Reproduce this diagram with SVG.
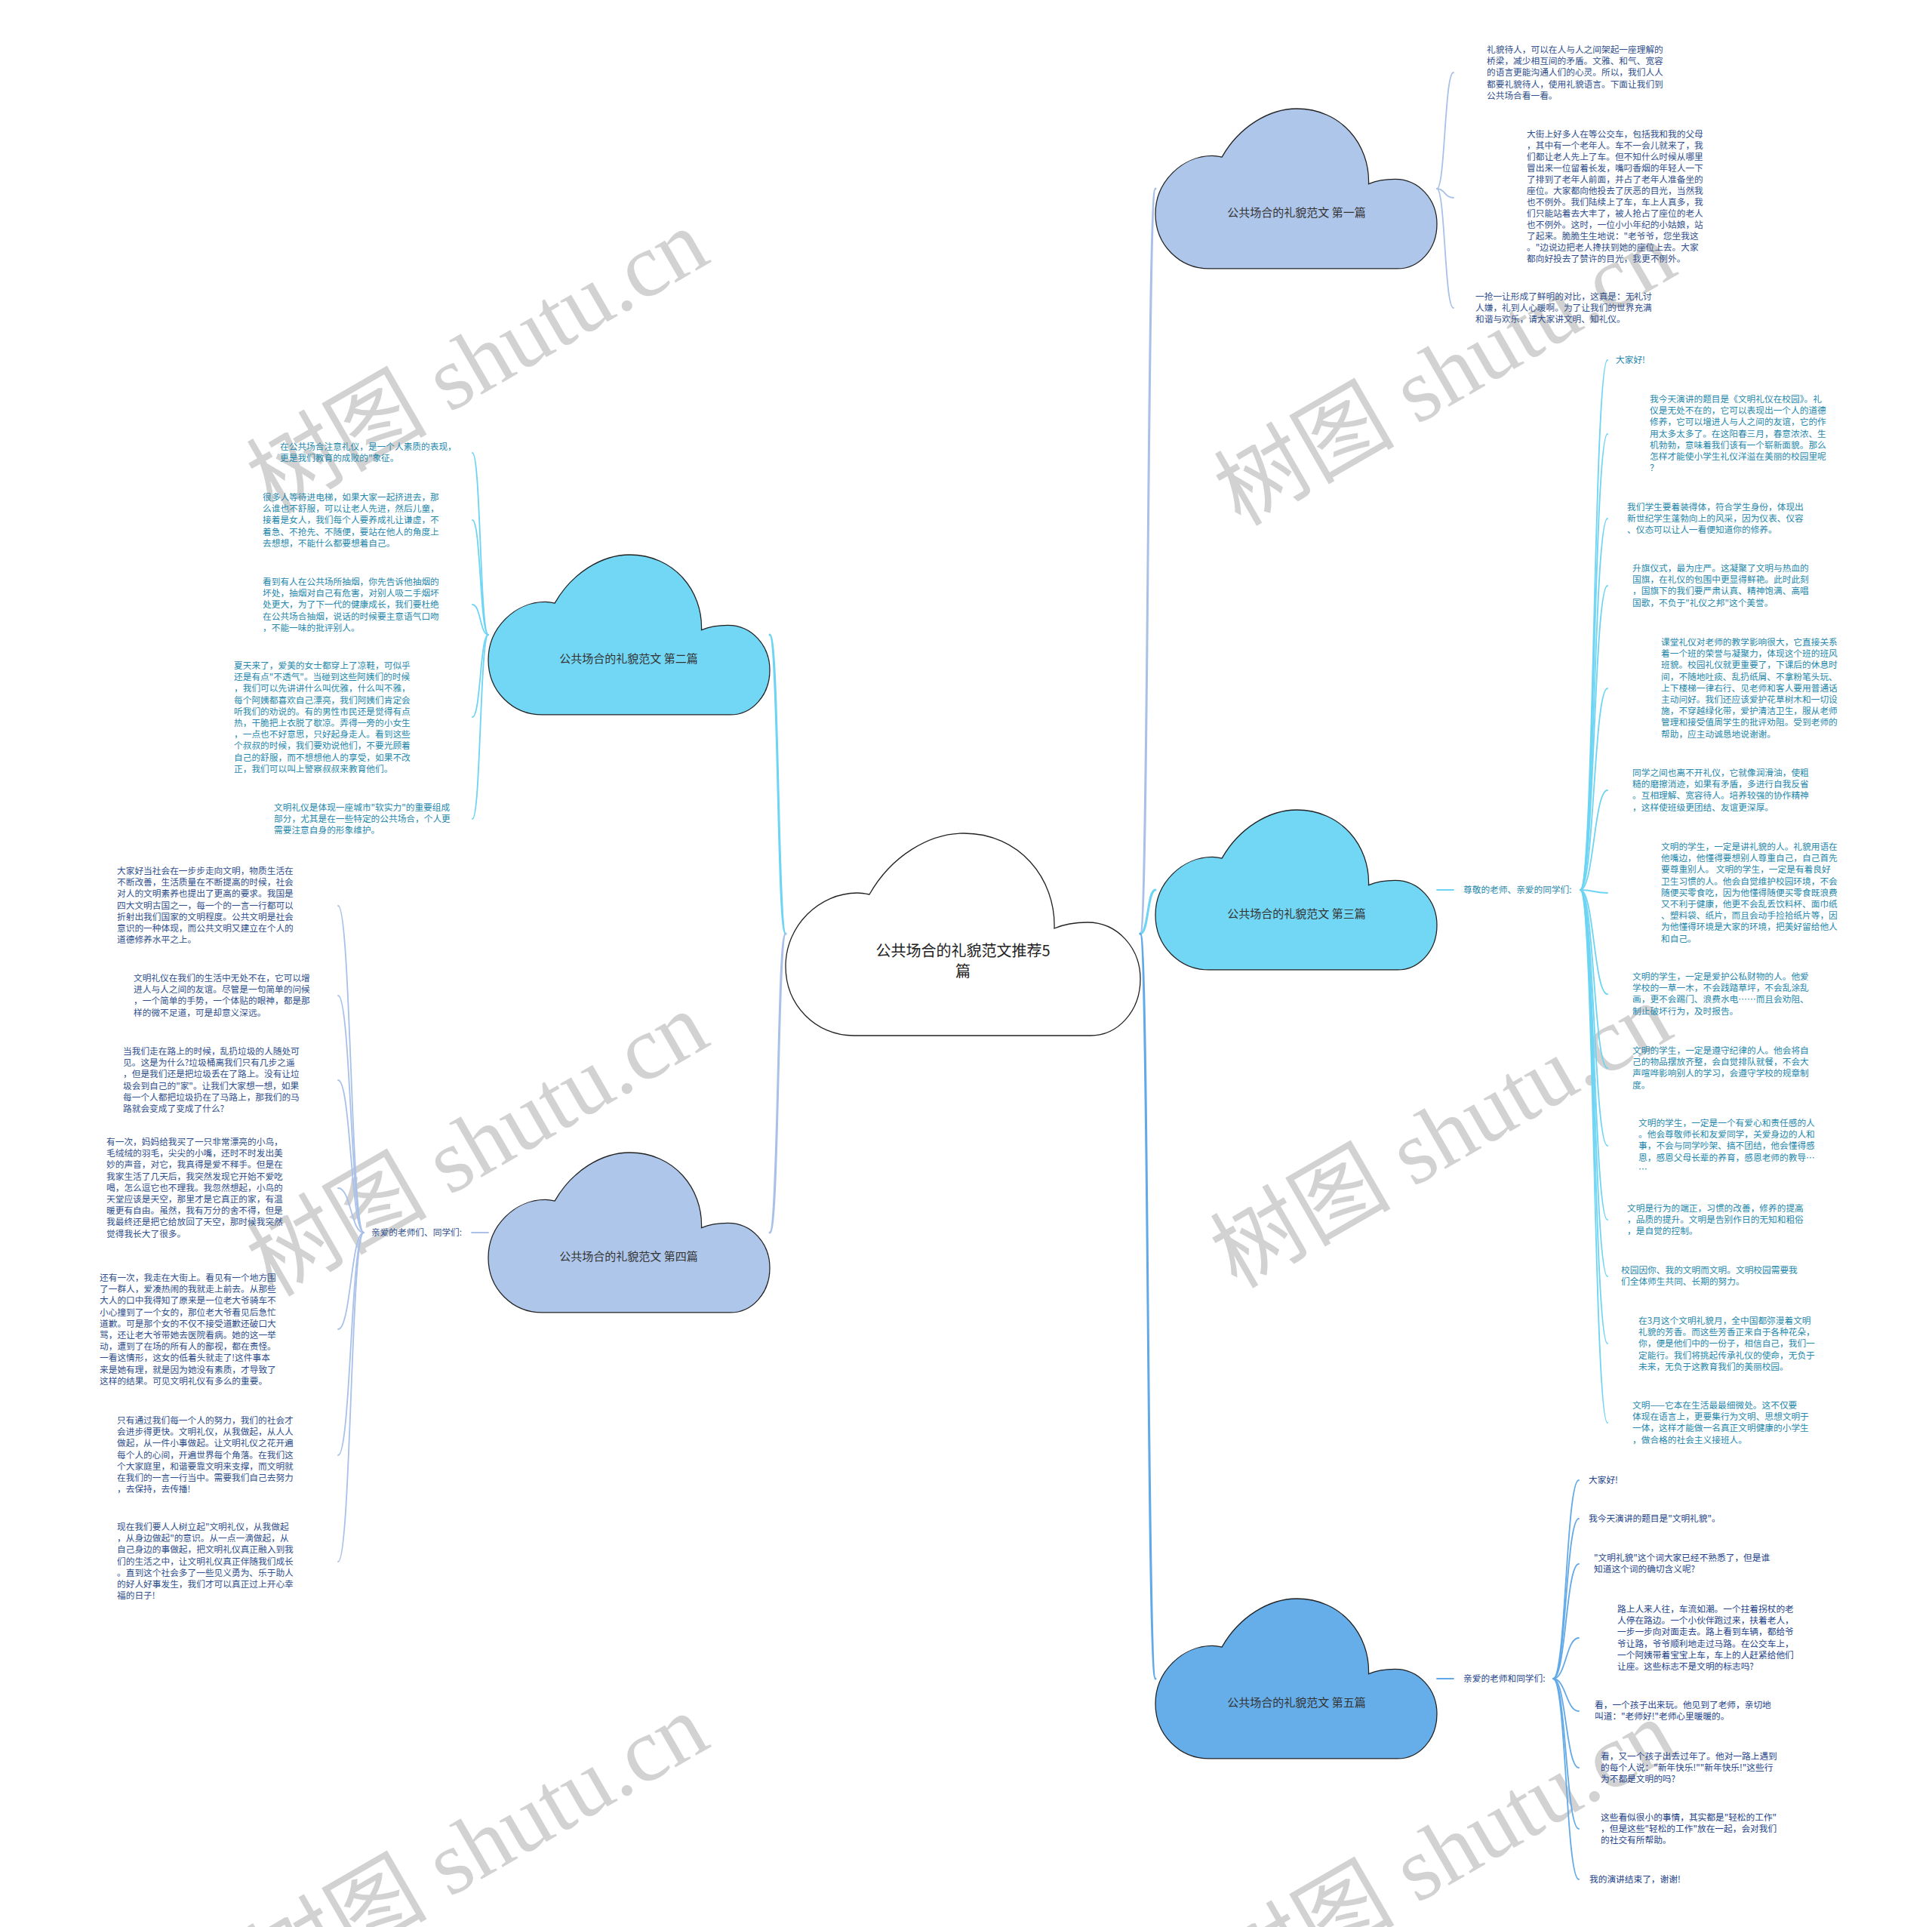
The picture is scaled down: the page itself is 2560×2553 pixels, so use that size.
<svg xmlns="http://www.w3.org/2000/svg" xmlns:xlink="http://www.w3.org/1999/xlink" width="2560" height="2553" viewBox="0 0 2560 2553">
<style>
.t{font-family:"Noto Sans CJK SC","Noto Sans",sans-serif;font-size:11.7px}
.navy{fill:#2f4f8c}
.teal{fill:#2688ab}
.blue5{fill:#24448a}
.lbl{font-family:"Noto Sans CJK SC","Noto Sans",sans-serif;font-size:15px;fill:#333;text-anchor:middle}
.root{font-family:"Noto Sans CJK SC","Noto Sans",sans-serif;font-size:20px;fill:#222;text-anchor:middle}
.wm{font-family:"Liberation Serif","Noto Sans CJK SC",serif;font-size:120px;fill:#d2d2d2;text-anchor:middle}
.c{fill:none;stroke-linecap:round}
.lav{stroke:#a9c1e8}
.cyan{stroke:#6dd4f3}
.bl{stroke:#62a9e8}
.main{stroke-width:3}
.leaf{stroke-width:1.8}
</style>
<defs>
<path id="cloud" d="M111,81 C140,30 190,0 236,0 C310,0 358,60 356,126 C370,120 385,118 400,118 C440,118 470,152 470,193 C470,236 440,268 404,268 L90,268 C40,268 0,228 0,176 C0,122 45,79 95,79 C101,79 106,80 111,81 Z"/>
</defs>
<rect width="2560" height="2553" fill="#fff"/>
<g id="watermarks">
<text class="wm" transform="translate(653,514) rotate(-30)">树图 shutu.cn</text>
<text class="wm" transform="translate(1935,530) rotate(-30)">树图 shutu.cn</text>
<text class="wm" transform="translate(653,1551) rotate(-30)">树图 shutu.cn</text>
<text class="wm" transform="translate(1930,1540) rotate(-30)">树图 shutu.cn</text>
<text class="wm" transform="translate(653,2481) rotate(-30)">树图 shutu.cn</text>
<text class="wm" transform="translate(1935,2489) rotate(-30)">树图 shutu.cn</text>
</g>
<g id="connectors">
<path class="c main lav" d="M1511,1237 C1522,1237 1520,250 1531,250"/>
<path class="c main cyan" d="M1511,1237 C1522,1237 1520,1179 1531,1179"/>
<path class="c main bl" d="M1511,1237 C1522,1237 1520,2224 1531,2224"/>
<path class="c main cyan" d="M1041,1237 C1030,1237 1032,841 1020,841"/>
<path class="c main lav" d="M1041,1237 C1030,1237 1032,1633 1020,1633"/>
<path class="c leaf cyan" d="M1904,1179 H1926"/>
<path class="c leaf bl" d="M1904,2224 H1926"/>
<path class="c leaf lav" d="M625,1633 H647"/>
<path class="c leaf lav" d="M1904,250 C1915,250 1914,96 1926,96"/>
<path class="c leaf lav" d="M1904,250 C1915,250 1914,262 1926,262"/>
<path class="c leaf lav" d="M1904,250 C1915,250 1914,408 1926,408"/>
<path class="c leaf cyan" d="M2094,1179 C2112,1179 2112,477 2130,477"/>
<path class="c leaf cyan" d="M2094,1179 C2112,1179 2112,575 2130,575"/>
<path class="c leaf cyan" d="M2094,1179 C2112,1179 2112,687 2130,687"/>
<path class="c leaf cyan" d="M2094,1179 C2112,1179 2112,776 2130,776"/>
<path class="c leaf cyan" d="M2094,1179 C2112,1179 2112,912 2130,912"/>
<path class="c leaf cyan" d="M2094,1179 C2112,1179 2112,1047 2130,1047"/>
<path class="c leaf cyan" d="M2094,1179 C2112,1179 2112,1183 2130,1183"/>
<path class="c leaf cyan" d="M2094,1179 C2112,1179 2112,1317 2130,1317"/>
<path class="c leaf cyan" d="M2094,1179 C2112,1179 2112,1415 2130,1415"/>
<path class="c leaf cyan" d="M2094,1179 C2112,1179 2112,1518 2130,1518"/>
<path class="c leaf cyan" d="M2094,1179 C2112,1179 2112,1616 2130,1616"/>
<path class="c leaf cyan" d="M2094,1179 C2112,1179 2112,1691 2130,1691"/>
<path class="c leaf cyan" d="M2094,1179 C2112,1179 2112,1780 2130,1780"/>
<path class="c leaf cyan" d="M2094,1179 C2112,1179 2112,1885 2130,1885"/>
<path class="c leaf bl" d="M2058,2224 C2075,2224 2075,1961 2092,1961"/>
<path class="c leaf bl" d="M2058,2224 C2075,2224 2075,2012 2092,2012"/>
<path class="c leaf bl" d="M2058,2224 C2075,2224 2075,2072 2092,2072"/>
<path class="c leaf bl" d="M2058,2224 C2075,2224 2075,2170 2092,2170"/>
<path class="c leaf bl" d="M2058,2224 C2075,2224 2075,2267 2092,2267"/>
<path class="c leaf bl" d="M2058,2224 C2075,2224 2075,2342 2092,2342"/>
<path class="c leaf bl" d="M2058,2224 C2075,2224 2075,2423 2092,2423"/>
<path class="c leaf bl" d="M2058,2224 C2075,2224 2075,2490 2092,2490"/>
<path class="c leaf cyan" d="M647,841 C636,841 637,600 626,600"/>
<path class="c leaf cyan" d="M647,841 C636,841 637,689 626,689"/>
<path class="c leaf cyan" d="M647,841 C636,841 637,801 626,801"/>
<path class="c leaf cyan" d="M647,841 C636,841 637,950 626,950"/>
<path class="c leaf cyan" d="M647,841 C636,841 637,1085 626,1085"/>
<path class="c leaf lav" d="M482,1633 C465,1633 465,1200 448,1200"/>
<path class="c leaf lav" d="M482,1633 C465,1633 465,1319 448,1319"/>
<path class="c leaf lav" d="M482,1633 C465,1633 465,1431 448,1431"/>
<path class="c leaf lav" d="M482,1633 C465,1633 465,1574 448,1574"/>
<path class="c leaf lav" d="M482,1633 C465,1633 465,1761 448,1761"/>
<path class="c leaf lav" d="M482,1633 C465,1633 465,1928 448,1928"/>
<path class="c leaf lav" d="M482,1633 C465,1633 465,2069 448,2069"/>
</g>
<g id="root">
<use xlink:href="#cloud" href="#cloud" transform="translate(1041,1104)" fill="#ffffff" stroke="#222" stroke-width="1.3"/>
<text class="root" x="1276" y="1267">公共场合的礼貌范文推荐5</text>
<text class="root" x="1276" y="1294">篇</text>
</g>
<g id="node1">
<use xlink:href="#cloud" href="#cloud" transform="translate(1531,144) scale(0.7936,0.791)" fill="#aec6ea" stroke="#222" stroke-width="1.6"/>
<text class="lbl" x="1718" y="287">公共场合的礼貌范文 第一篇</text>
</g>
<g id="node1-texts" class="t navy">
<text x="1970" y="70"><tspan x="1970">礼貌待人，可以在人与人之间架起一座理解的</tspan><tspan x="1970" dy="15.2">桥梁，减少相互间的矛盾。文雅、和气、宽容</tspan><tspan x="1970" dy="15.2">的语言更能沟通人们的心灵。所以，我们人人</tspan><tspan x="1970" dy="15.2">都要礼貌待人，使用礼貌语言。下面让我们到</tspan><tspan x="1970" dy="15.2">公共场合看一看。</tspan></text>
<text x="2023" y="182"><tspan x="2023">大街上好多人在等公交车，包括我和我的父母</tspan><tspan x="2023" dy="15">，其中有一个老年人。车不一会儿就来了，我</tspan><tspan x="2023" dy="15">们都让老人先上了车。但不知什么时候从哪里</tspan><tspan x="2023" dy="15">冒出来一位留着长发，嘴叼香烟的年轻人一下</tspan><tspan x="2023" dy="15">了排到了老年人前面，并占了老年人准备坐的</tspan><tspan x="2023" dy="15">座位。大家都向他投去了厌恶的目光，当然我</tspan><tspan x="2023" dy="15">也不例外。我们陆续上了车，车上人真多，我</tspan><tspan x="2023" dy="15">们只能站着去大丰了，被人抢占了座位的老人</tspan><tspan x="2023" dy="15">也不例外。这时，一位小小年纪的小姑娘，站</tspan><tspan x="2023" dy="15">了起来。脆脆生生地说："老爷爷，您坐我这</tspan><tspan x="2023" dy="15">。"边说边把老人搀扶到她的座位上去。大家</tspan><tspan x="2023" dy="15">都向好投去了赞许的目光，我更不例外。</tspan></text>
<text x="1955" y="397"><tspan x="1955">一抢一让形成了鲜明的对比，这真是：无礼讨</tspan><tspan x="1955" dy="15.2">人嫌，礼到人心暖啊。为了让我们的世界充满</tspan><tspan x="1955" dy="15.2">和谐与欢乐，请大家讲文明、知礼仪。</tspan></text>
</g>
<g id="node2">
<use xlink:href="#cloud" href="#cloud" transform="translate(647,735) scale(0.7936,0.791)" fill="#72d6f5" stroke="#222" stroke-width="1.6"/>
<text class="lbl" x="833" y="878">公共场合的礼貌范文 第二篇</text>
</g>
<g id="node2-texts" class="t teal">
<text x="371" y="596"><tspan x="371">在公共场合注意礼仪，是一个人素质的表现，</tspan><tspan x="371" dy="15.2">更是我们教育的成败的"象征。</tspan></text>
<text x="348" y="663"><tspan x="348">很多人等待进电梯，如果大家一起挤进去，那</tspan><tspan x="348" dy="15.2">么谁也不舒服，可以让老人先进，然后儿童，</tspan><tspan x="348" dy="15.2">接着是女人，我们每个人要养成礼让谦虚，不</tspan><tspan x="348" dy="15.2">着急、不抢先、不随便，要站在他人的角度上</tspan><tspan x="348" dy="15.2">去想想，不能什么都要想着自己。</tspan></text>
<text x="348" y="775"><tspan x="348">看到有人在公共场所抽烟，你先告诉他抽烟的</tspan><tspan x="348" dy="15.2">坏处，抽烟对自己有危害，对别人吸二手烟坏</tspan><tspan x="348" dy="15.2">处更大，为了下一代的健康成长，我们要杜绝</tspan><tspan x="348" dy="15.2">在公共场合抽烟，说话的时候要主意语气口吻</tspan><tspan x="348" dy="15.2">，不能一味的批评别人。</tspan></text>
<text x="310" y="886"><tspan x="310">夏天来了，爱美的女士都穿上了凉鞋，可似乎</tspan><tspan x="310" dy="15.2">还是有点"不透气"。当碰到这些阿姨们的时候</tspan><tspan x="310" dy="15.2">，我们可以先讲讲什么叫优雅，什么叫不雅，</tspan><tspan x="310" dy="15.2">每个阿姨都喜欢自己漂亮，我们阿姨们肯定会</tspan><tspan x="310" dy="15.2">听我们的劝说的。有的男性市民还是觉得有点</tspan><tspan x="310" dy="15.2">热，干脆把上衣脱了歇凉。弄得一旁的小女生</tspan><tspan x="310" dy="15.2">，一点也不好意思，只好起身走人。看到这些</tspan><tspan x="310" dy="15.2">个叔叔的时候，我们要劝说他们，不要光顾着</tspan><tspan x="310" dy="15.2">自己的舒服，而不想想他人的享受，如果不改</tspan><tspan x="310" dy="15.2">正，我们可以叫上警察叔叔来教育他们。</tspan></text>
<text x="363" y="1074"><tspan x="363">文明礼仪是体现一座城市"软实力"的重要组成</tspan><tspan x="363" dy="15.2">部分，尤其是在一些特定的公共场合，个人更</tspan><tspan x="363" dy="15.2">需要注意自身的形象维护。</tspan></text>
</g>
<g id="node3">
<use xlink:href="#cloud" href="#cloud" transform="translate(1531,1073) scale(0.7936,0.791)" fill="#72d6f5" stroke="#222" stroke-width="1.6"/>
<text class="lbl" x="1718" y="1216">公共场合的礼貌范文 第三篇</text>
<text class="t teal" x="1939" y="1183">尊敬的老师、亲爱的同学们:</text>
</g>
<g id="node3-texts" class="t teal">
<text x="2141" y="481">大家好!</text>
<text x="2186" y="533"><tspan x="2186">我今天演讲的题目是《文明礼仪在校园》。礼</tspan><tspan x="2186" dy="15.2">仪是无处不在的，它可以表现出一个人的道德</tspan><tspan x="2186" dy="15.2">修养，它可以增进人与人之间的友谊，它的作</tspan><tspan x="2186" dy="15.2">用太多太多了。在这阳春三月，春意浓浓、生</tspan><tspan x="2186" dy="15.2">机勃勃，意味着我们该有一个崭新面貌。那么</tspan><tspan x="2186" dy="15.2">怎样才能使小学生礼仪洋溢在美丽的校园里呢</tspan><tspan x="2186" dy="15.2">？</tspan></text>
<text x="2156" y="676"><tspan x="2156">我们学生要着装得体，符合学生身份，体现出</tspan><tspan x="2156" dy="15.2">新世纪学生蓬勃向上的风采，因为仪表、仪容</tspan><tspan x="2156" dy="15.2">、仪态可以让人一看便知道你的修养。</tspan></text>
<text x="2163" y="757"><tspan x="2163">升旗仪式，最为庄严。这凝聚了文明与热血的</tspan><tspan x="2163" dy="15.2">国旗，在礼仪的包围中更显得鲜艳。此时此刻</tspan><tspan x="2163" dy="15.2">，国旗下的我们要严肃认真、精神饱满、高唱</tspan><tspan x="2163" dy="15.2">国歌，不负于"礼仪之邦"这个美誉。</tspan></text>
<text x="2201" y="855"><tspan x="2201">课堂礼仪对老师的教学影响很大，它直接关系</tspan><tspan x="2201" dy="15.2">着一个班的荣誉与凝聚力，体现这个班的班风</tspan><tspan x="2201" dy="15.2">班貌。校园礼仪就更重要了，下课后的休息时</tspan><tspan x="2201" dy="15.2">间，不随地吐痰、乱扔纸屑、不拿粉笔头玩、</tspan><tspan x="2201" dy="15.2">上下楼梯一律右行、见老师和客人要用普通话</tspan><tspan x="2201" dy="15.2">主动问好。我们还应该爱护花草树木和一切设</tspan><tspan x="2201" dy="15.2">施，不穿越绿化带，爱护清洁卫生，服从老师</tspan><tspan x="2201" dy="15.2">管理和接受值周学生的批评劝阻。受到老师的</tspan><tspan x="2201" dy="15.2">帮助，应主动诚恳地说谢谢。</tspan></text>
<text x="2163" y="1028"><tspan x="2163">同学之间也离不开礼仪，它就像润滑油，使粗</tspan><tspan x="2163" dy="15.2">糙的磨擦消迹，如果有矛盾，多进行自我反省</tspan><tspan x="2163" dy="15.2">。互相理解、宽容待人。培养较强的协作精神</tspan><tspan x="2163" dy="15.2">，这样使班级更团结、友谊更深厚。</tspan></text>
<text x="2201" y="1126"><tspan x="2201">文明的学生，一定是讲礼貌的人。礼貌用语在</tspan><tspan x="2201" dy="15.2">他嘴边，他懂得要想别人尊重自己，自己首先</tspan><tspan x="2201" dy="15.2">要尊重别人。 文明的学生，一定是有着良好</tspan><tspan x="2201" dy="15.2">卫生习惯的人。他会自觉维护校园环境，不会</tspan><tspan x="2201" dy="15.2">随便买零食吃，因为他懂得随便买零食既浪费</tspan><tspan x="2201" dy="15.2">又不利于健康，他更不会乱丢饮料杯、面巾纸</tspan><tspan x="2201" dy="15.2">、塑料袋、纸片，而且会动手捡拾纸片等，因</tspan><tspan x="2201" dy="15.2">为他懂得环境是大家的环境，把美好留给他人</tspan><tspan x="2201" dy="15.2">和自己。</tspan></text>
<text x="2163" y="1298"><tspan x="2163">文明的学生，一定是爱护公私财物的人。他爱</tspan><tspan x="2163" dy="15.2">学校的一草一木，不会践踏草坪，不会乱涂乱</tspan><tspan x="2163" dy="15.2">画，更不会踢门、浪费水电……而且会劝阻、</tspan><tspan x="2163" dy="15.2">制止破坏行为，及时报告。</tspan></text>
<text x="2163" y="1396"><tspan x="2163">文明的学生，一定是遵守纪律的人。他会将自</tspan><tspan x="2163" dy="15.2">己的物品摆放齐整，会自觉排队就餐，不会大</tspan><tspan x="2163" dy="15.2">声喧哗影响别人的学习，会遵守学校的规章制</tspan><tspan x="2163" dy="15.2">度。</tspan></text>
<text x="2171" y="1492"><tspan x="2171">文明的学生，一定是一个有爱心和责任感的人</tspan><tspan x="2171" dy="15.2">。他会尊敬师长和友爱同学，关爱身边的人和</tspan><tspan x="2171" dy="15.2">事，不会与同学吵架、搞不团结，他会懂得感</tspan><tspan x="2171" dy="15.2">恩，感恩父母长辈的养育，感恩老师的教导…</tspan><tspan x="2171" dy="15.2">…</tspan></text>
<text x="2156" y="1605"><tspan x="2156">文明是行为的端正，习惯的改善，修养的提高</tspan><tspan x="2156" dy="15.2">，品质的提升。文明是告别作日的无知和粗俗</tspan><tspan x="2156" dy="15.2">，是自觉的控制。</tspan></text>
<text x="2148" y="1687"><tspan x="2148">校园因你、我的文明而文明。文明校园需要我</tspan><tspan x="2148" dy="15.2">们全体师生共同、长期的努力。</tspan></text>
<text x="2171" y="1754"><tspan x="2171">在3月这个文明礼貌月，全中国都弥漫着文明</tspan><tspan x="2171" dy="15.2">礼貌的芳香。而这些芳香正来自于各种花朵，</tspan><tspan x="2171" dy="15.2">你，便是他们中的一份子，相信自己，我们一</tspan><tspan x="2171" dy="15.2">定能行。我们将挑起传承礼仪的使命，无负于</tspan><tspan x="2171" dy="15.2">未来，无负于这教育我们的美丽校园。</tspan></text>
<text x="2163" y="1866"><tspan x="2163">文明——它本在生活最最细微处。这不仅要</tspan><tspan x="2163" dy="15.2">体现在语言上，更要集行为文明、思想文明于</tspan><tspan x="2163" dy="15.2">一体，这样才能做一名真正文明健康的小学生</tspan><tspan x="2163" dy="15.2">，做合格的社会主义接班人。</tspan></text>
</g>
<g id="node4">
<use xlink:href="#cloud" href="#cloud" transform="translate(647,1527) scale(0.7936,0.791)" fill="#aec6ea" stroke="#222" stroke-width="1.6"/>
<text class="lbl" x="833" y="1670">公共场合的礼貌范文 第四篇</text>
<text class="t navy" x="612" y="1637" text-anchor="end">亲爱的老师们、同学们:</text>
</g>
<g id="node4-texts" class="t navy">
<text x="155" y="1158"><tspan x="155">大家好当社会在一步步走向文明，物质生活在</tspan><tspan x="155" dy="15.2">不断改善，生活质量在不断提高的时候，社会</tspan><tspan x="155" dy="15.2">对人的文明素养也提出了更高的要求。我国是</tspan><tspan x="155" dy="15.2">四大文明古国之一，每一个的一言一行都可以</tspan><tspan x="155" dy="15.2">折射出我们国家的文明程度。公共文明是社会</tspan><tspan x="155" dy="15.2">意识的一种体现，而公共文明又建立在个人的</tspan><tspan x="155" dy="15.2">道德修养水平之上。</tspan></text>
<text x="177" y="1300"><tspan x="177">文明礼仪在我们的生活中无处不在，它可以增</tspan><tspan x="177" dy="15.2">进人与人之间的友谊。尽管是一句简单的问候</tspan><tspan x="177" dy="15.2">，一个简单的手势，一个体贴的眼神，都是那</tspan><tspan x="177" dy="15.2">样的微不足道，可是却意义深远。</tspan></text>
<text x="163" y="1397"><tspan x="163">当我们走在路上的时候，乱扔垃圾的人随处可</tspan><tspan x="163" dy="15.2">见。这是为什么?垃圾桶离我们只有几步之遥</tspan><tspan x="163" dy="15.2">，但是我们还是把垃圾丢在了路上。没有让垃</tspan><tspan x="163" dy="15.2">圾会到自己的"家"。让我们大家想一想，如果</tspan><tspan x="163" dy="15.2">每一个人都把垃圾扔在了马路上，那我们的马</tspan><tspan x="163" dy="15.2">路就会变成了变成了什么?</tspan></text>
<text x="141" y="1517"><tspan x="141">有一次，妈妈给我买了一只非常漂亮的小鸟，</tspan><tspan x="141" dy="15.2">毛绒绒的羽毛，尖尖的小嘴，还时不时发出美</tspan><tspan x="141" dy="15.2">妙的声音，对它，我真得是爱不释手。但是在</tspan><tspan x="141" dy="15.2">我家生活了几天后，我突然发现它开始不爱吃</tspan><tspan x="141" dy="15.2">喝，怎么逗它也不理我。我忽然想起，小鸟的</tspan><tspan x="141" dy="15.2">天堂应该是天空，那里才是它真正的家，有温</tspan><tspan x="141" dy="15.2">暖更有自由。虽然，我有万分的舍不得，但是</tspan><tspan x="141" dy="15.2">我最终还是把它给放回了天空，那时候我突然</tspan><tspan x="141" dy="15.2">觉得我长大了很多。</tspan></text>
<text x="132" y="1697"><tspan x="132">还有一次，我走在大街上。看见有一个地方围</tspan><tspan x="132" dy="15.2">了一群人，爱凑热闹的我就走上前去。从那些</tspan><tspan x="132" dy="15.2">大人的口中我得知了原来是一位老大爷骑车不</tspan><tspan x="132" dy="15.2">小心撞到了一个女的，那位老大爷看见后急忙</tspan><tspan x="132" dy="15.2">道歉。可是那个女的不仅不接受道歉还破口大</tspan><tspan x="132" dy="15.2">骂，还让老大爷带她去医院看病。她的这一举</tspan><tspan x="132" dy="15.2">动，遭到了在场的所有人的鄙视，都在责怪。</tspan><tspan x="132" dy="15.2">一看这情形，这女的低着头就走了!这件事本</tspan><tspan x="132" dy="15.2">来是她有理，就是因为她没有素质，才导致了</tspan><tspan x="132" dy="15.2">这样的结果。可见文明礼仪有多么的重要。</tspan></text>
<text x="155" y="1886"><tspan x="155">只有通过我们每一个人的努力，我们的社会才</tspan><tspan x="155" dy="15.2">会进步得更快。文明礼仪，从我做起，从人人</tspan><tspan x="155" dy="15.2">做起，从一件小事做起。让文明礼仪之花开遍</tspan><tspan x="155" dy="15.2">每个人的心间，开遍世界每个角落。在我们这</tspan><tspan x="155" dy="15.2">个大家庭里，和谐要靠文明来支撑，而文明就</tspan><tspan x="155" dy="15.2">在我们的一言一行当中。需要我们自己去努力</tspan><tspan x="155" dy="15.2">，去保持，去传播!</tspan></text>
<text x="155" y="2027"><tspan x="155">现在我们要人人树立起"文明礼仪，从我做起</tspan><tspan x="155" dy="15.2">，从身边做起"的意识。从一点一滴做起，从</tspan><tspan x="155" dy="15.2">自己身边的事做起，把文明礼仪真正融入到我</tspan><tspan x="155" dy="15.2">们的生活之中，让文明礼仪真正伴随我们成长</tspan><tspan x="155" dy="15.2">。直到这个社会多了一些见义勇为、乐于助人</tspan><tspan x="155" dy="15.2">的好人好事发生，我们才可以真正过上开心幸</tspan><tspan x="155" dy="15.2">福的日子!</tspan></text>
</g>
<g id="node5">
<use xlink:href="#cloud" href="#cloud" transform="translate(1531,2118) scale(0.7936,0.791)" fill="#66aee9" stroke="#222" stroke-width="1.6"/>
<text class="lbl" x="1718" y="2261">公共场合的礼貌范文 第五篇</text>
<text class="t blue5" x="1939" y="2228">亲爱的老师和同学们:</text>
</g>
<g id="node5-texts" class="t blue5">
<text x="2105" y="1965">大家好!</text>
<text x="2105" y="2016">我今天演讲的题目是"文明礼貌"。</text>
<text x="2112" y="2068"><tspan x="2112">"文明礼貌"这个词大家已经不熟悉了，但是谁</tspan><tspan x="2112" dy="15.2">知道这个词的确切含义呢?</tspan></text>
<text x="2143" y="2136"><tspan x="2143">路上人来人往，车流如潮。一个拄着拐杖的老</tspan><tspan x="2143" dy="15.2">人停在路边。一个小伙伴跑过来，扶着老人，</tspan><tspan x="2143" dy="15.2">一步一步向对面走去。路上看到车辆，都给爷</tspan><tspan x="2143" dy="15.2">爷让路，爷爷顺利地走过马路。在公交车上，</tspan><tspan x="2143" dy="15.2">一个阿姨带着宝宝上车，车上的人赶紧给他们</tspan><tspan x="2143" dy="15.2">让座。这些标志不是文明的标志吗?</tspan></text>
<text x="2113" y="2263"><tspan x="2113">看，一个孩子出来玩。他见到了老师，亲切地</tspan><tspan x="2113" dy="15.2">叫道："老师好!"老师心里暖暖的。</tspan></text>
<text x="2121" y="2331"><tspan x="2121">看，又一个孩子出去过年了。他对一路上遇到</tspan><tspan x="2121" dy="15.2">的每个人说："新年快乐!""新年快乐!"这些行</tspan><tspan x="2121" dy="15.2">为不都是文明的吗?</tspan></text>
<text x="2121" y="2412"><tspan x="2121">这些看似很小的事情，其实都是"轻松的工作"</tspan><tspan x="2121" dy="15.2">，但是这些"轻松的工作"放在一起，会对我们</tspan><tspan x="2121" dy="15.2">的社交有所帮助。</tspan></text>
<text x="2106" y="2494">我的演讲结束了，谢谢!</text>
</g>
</svg>
